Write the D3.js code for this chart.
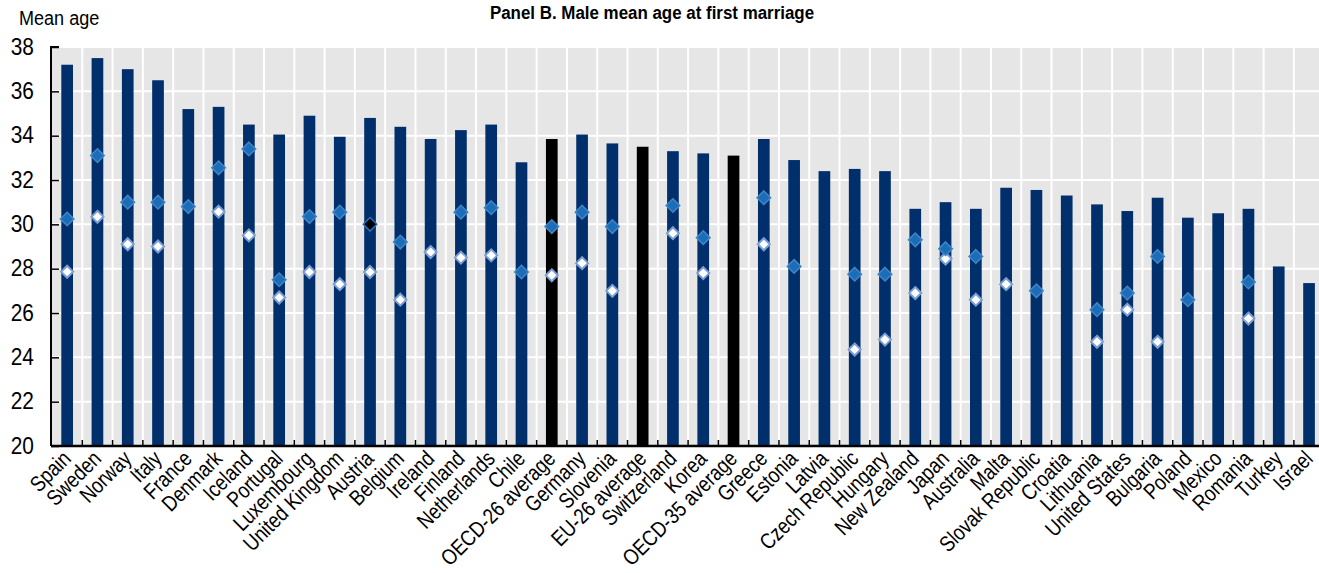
<!DOCTYPE html>
<html><head><meta charset="utf-8">
<script src="https://cdn.jsdelivr.net/npm/d3@7"></script>
<style>
html,body{margin:0;padding:0;background:#fff;}
svg{display:block;}
text{font-family:"Liberation Sans",Arial,sans-serif;fill:#000;}
</style></head>
<body><svg id="c" width="1319" height="573"></svg>
<script>
const categories = ["Spain","Sweden","Norway","Italy","France","Denmark","Iceland","Portugal","Luxembourg","United Kingdom","Austria","Belgium","Ireland","Finland","Netherlands","Chile","OECD-26 average","Germany","Slovenia","EU-26 average","Switzerland","Korea","OECD-35 average","Greece","Estonia","Latvia","Czech Republic","Hungary","New Zealand","Japan","Australia","Malta","Slovak Republic","Croatia","Lithuania","United States","Bulgaria","Poland","Mexico","Romania","Turkey","Israel"];
const barValues = [37.2,37.5,37.0,36.5,35.2,35.3,34.5,34.05,34.9,33.95,34.8,34.4,33.85,34.25,34.5,32.8,33.85,34.05,33.65,33.5,33.3,33.2,33.1,33.85,32.9,32.4,32.5,32.4,30.7,31.0,30.7,31.65,31.55,31.3,30.9,30.6,31.2,30.3,30.5,30.7,28.1,27.35];
const blueMarkers = [30.24,33.1,31.0,31.0,30.8,32.55,33.4,27.5,30.35,30.55,30.0,29.2,null,30.55,30.75,27.85,29.9,30.55,29.9,null,30.85,29.4,null,31.2,28.1,null,27.75,27.75,29.3,28.9,28.55,null,27.0,null,26.15,26.9,28.55,26.6,null,27.4,null,null];
const whiteMarkers = [27.86,30.34,29.1,29.0,null,30.57,29.5,26.7,27.85,27.3,27.85,26.6,28.75,28.5,28.6,null,27.7,28.25,27.0,null,29.6,27.8,null,29.1,null,null,24.35,24.8,26.9,28.45,26.6,27.3,null,null,24.7,26.15,24.7,null,null,25.75,null,null];
const averageCategories = ["OECD-26 average","EU-26 average","OECD-35 average"];
const blackMarkerCategories = ["Austria"];
const yTicks = [20,22,24,26,28,30,32,34,36,38];
const titleText = "Panel B. Male mean age at first marriage";
const yAxisTitle = "Mean age";

const svg = d3.select("#c");
const pLeft = 52, pStep = 30.29, pTop = 47, pBottom = 446;
const pRight = pLeft + pStep * categories.length;

const x = d3.scaleBand().domain(categories).range([pLeft, pRight]).paddingInner(0.614).paddingOuter(0.307);
const y = d3.scaleLinear().domain([20, 38]).range([pBottom, pTop]);

// background
svg.append("rect").attr("x", pLeft).attr("y", pTop).attr("width", pRight - pLeft).attr("height", pBottom - pTop).attr("fill", "#e6e6e6");

// horizontal gridlines
svg.append("g").selectAll("line").data(yTicks.filter(t => t > 20)).join("line")
  .attr("x1", pLeft).attr("x2", pRight).attr("y1", d => y(d)).attr("y2", d => y(d))
  .attr("stroke", "#fff").attr("stroke-width", 2);
// vertical gridlines at band boundaries
const bounds = categories.slice(1).map(c => x(c) - x.step() * x.paddingInner() / 2);
svg.append("g").selectAll("line").data(bounds).join("line")
  .attr("x1", d => d).attr("x2", d => d).attr("y1", pTop).attr("y2", pBottom)
  .attr("stroke", "#fff").attr("stroke-width", 2);

// bars
svg.append("g").selectAll("rect").data(categories).join("rect")
  .attr("x", d => x(d)).attr("width", x.bandwidth())
  .attr("y", (d, i) => y(barValues[i])).attr("height", (d, i) => y(20) - y(barValues[i]))
  .attr("fill", d => averageCategories.includes(d) ? "#000" : "#002f6c");

// markers
const diamond = (cx, cy, r) => `M${cx},${cy - r}L${cx + r},${cy}L${cx},${cy + r}L${cx - r},${cy}Z`;
const cxOf = c => x(c) + x.bandwidth() / 2;
svg.append("g").selectAll("path").data(categories.map((c, i) => ({c, v: whiteMarkers[i]})).filter(d => d.v != null)).join("path")
  .attr("d", d => diamond(cxOf(d.c), y(d.v), 6))
  .attr("fill", "#fff").attr("stroke", "#7b9ed3").attr("stroke-width", 2);
svg.append("g").selectAll("path").data(categories.map((c, i) => ({c, v: blueMarkers[i]})).filter(d => d.v != null)).join("path")
  .attr("d", d => diamond(cxOf(d.c), y(d.v), 6.8))
  .attr("fill", d => blackMarkerCategories.includes(d.c) ? "#000" : "#1c6cb7")
  .attr("stroke", d => blackMarkerCategories.includes(d.c) ? "#2a72bd" : "#3f86c9").attr("stroke-width", 1.5);

// axes
const yAxis = d3.axisLeft(y).tickValues(yTicks).tickSize(-8).tickPadding(18);
const gy = svg.append("g").attr("transform", `translate(${pLeft - 1},0)`).call(yAxis);
gy.select(".domain").attr("stroke", "#000").attr("stroke-width", 2).attr("d", `M8,${pTop}H0V${pBottom}`);
gy.selectAll(".tick line").attr("stroke", "#000").attr("stroke-width", 1.5);
gy.selectAll(".tick text").style("font-size", "22px").attr("fill", "#000")
  .attr("transform", "scale(0.95,1.08)").attr("dy", "0.3em");

const xAxisG = svg.append("g").attr("transform", `translate(0,${pBottom})`);
xAxisG.append("line").attr("x1", pLeft - 1).attr("x2", pRight).attr("y1", 0).attr("y2", 0).attr("stroke", "#000").attr("stroke-width", 2.5);
xAxisG.selectAll("line.tk").data(bounds).join("line").attr("class", "tk")
  .attr("x1", d => d).attr("x2", d => d).attr("y1", 0).attr("y2", -6).attr("stroke", "#000").attr("stroke-width", 1.5);
xAxisG.selectAll("text.lbl").data(categories).join("text").attr("class", "lbl")
  .attr("text-anchor", "end")
  .attr("transform", d => `translate(${cxOf(d) + 5},${14}) rotate(-45) scale(0.92,1.1)`)
  .style("font-size", "20px")
  .text(d => d);

// titles
svg.append("text").attr("x", 19).attr("y", 25).style("font-size", "19px")
  .attr("transform", "translate(19,25) scale(0.95,1.05) translate(-19,-25)").text(yAxisTitle);
svg.append("text").attr("x", 652).attr("y", 19).attr("text-anchor", "middle")
  .attr("transform", "translate(652,19) scale(0.94,1.05) translate(-652,-19)")
  .style("font-size", "18px").style("font-weight", "bold").text(titleText);
</script></body></html>
